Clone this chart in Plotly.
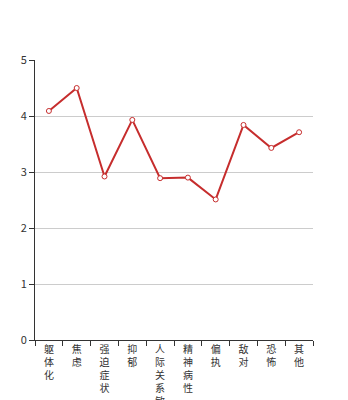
import plotly.graph_objects as go

categories = ["躯体化", "焦虑", "强迫症状", "抑郁", "人际关系敏感", "精神病性", "偏执", "敌对", "恐怖", "其他"]
values = [4.09, 4.5, 2.92, 3.93, 2.89, 2.9, 2.51, 3.84, 3.43, 3.71]
y_ticks = [0, 1, 2, 3, 4, 5]

labels = ["<br>".join(list(c)) for c in categories]

fig = go.Figure()
fig.add_trace(go.Scatter(
    x=labels, y=values, mode="lines+markers",
    line=dict(color="#c62d2d", width=2),
    marker=dict(symbol="circle", size=5, color="white",
                line=dict(color="#c62d2d", width=1)),
    showlegend=False, hoverinfo="skip", cliponaxis=False,
))

fig.update_layout(
    width=348, height=400,
    margin=dict(l=35, r=35, t=60, b=60),
    plot_bgcolor="white", paper_bgcolor="white",
    font=dict(family="Noto Sans CJK SC", size=11, color="#333"),
)
fig.update_xaxes(
    type="category", range=[-0.5, len(categories) - 0.5],
    tickson="boundaries", ticks="outside", ticklen=5,
    tickcolor="#333", showline=True, linecolor="#333", linewidth=1,
    showgrid=False, automargin=False, tickangle=0,
    tickfont=dict(size=10, color="#333"),
)
fig.update_yaxes(
    range=[0, 5], tickvals=y_ticks, ticks="outside", ticklen=5,
    tickcolor="#333", showline=True, linecolor="#333", linewidth=1,
    gridcolor="#cccccc", zeroline=False, automargin=False,
    tickfont=dict(size=11, color="#333"),
)

fig.write_html("out.html")
